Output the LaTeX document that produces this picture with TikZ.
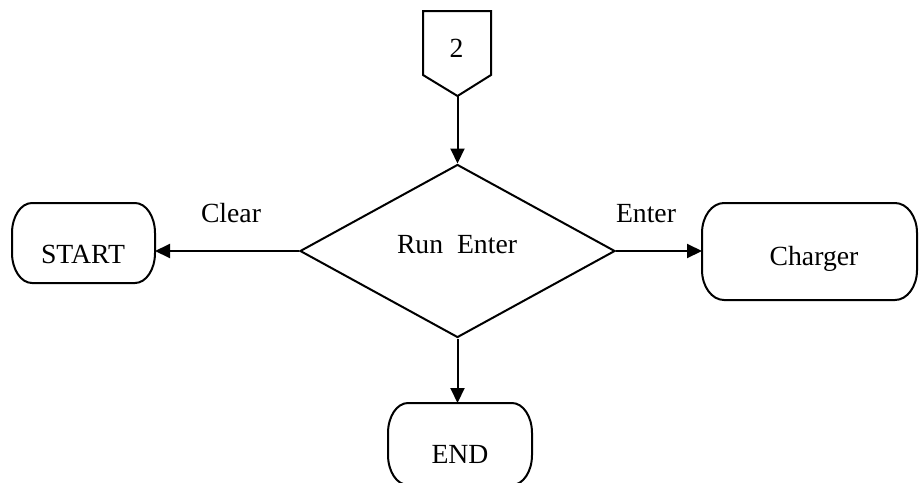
\documentclass[tikz,border=0pt]{standalone}
\usepackage{fontspec}
\setmainfont{Liberation Serif}
\usetikzlibrary{shapes.geometric,arrows.meta}

% Terminator outline with elliptical ends around a rectangular node:
% #1 node name, #2 horizontal corner radius, #3 vertical corner radius
\newcommand\termoutline[3]{%
  \draw[lineart] ([xshift=#2]#1.north west) -- ([xshift=-#2]#1.north east)
    arc[start angle=90, end angle=0, x radius=#2, y radius=#3]
    -- ([yshift=#3]#1.south east)
    arc[start angle=0, end angle=-90, x radius=#2, y radius=#3]
    -- ([xshift=#2]#1.south west)
    arc[start angle=270, end angle=180, x radius=#2, y radius=#3]
    -- ([yshift=-#3]#1.north west)
    arc[start angle=180, end angle=90, x radius=#2, y radius=#3]
    -- cycle;}

\begin{document}
\begin{tikzpicture}[x=0.5pt, y=-0.5pt,
  every node/.style={font=\fontsize{13.85}{16}\selectfont},
  lineart/.style={line width=1pt, line join=miter},
  flow/.style={lineart, -{Triangle[length=7.5pt, width=7pt]}},
  termbox/.style={rectangle, draw=none, inner sep=0pt, outer sep=0pt},
  decision/.style={diamond, draw, line width=1pt, inner sep=0pt,
    minimum width=157.5pt, minimum height=86.5pt},
  txt/.style={inner sep=0pt, anchor=base}]

  \useasboundingbox (0,0) rectangle (919,482);
  \clip (0,0) rectangle (919,482);

  % off-page connector
  \node[termbox, minimum width=34pt, minimum height=32pt] (conn) at (457,43) {};
  \coordinate (tip) at (457.5,96);
  \draw[lineart] (conn.south west) -- (conn.north west) -- (conn.north east)
    -- (conn.south east) -- (tip) -- cycle;
  \node[txt] (conntxt) at (456.5,57) {2};

  % decision
  \node[decision] (dec) at (457.5,251) {};
  \node[txt] (dectxt) at (457,253) {Run~~Enter};

  % terminators
  \node[termbox, minimum width=71.5pt, minimum height=40pt] (start) at (83.5,243) {};
  \termoutline{start}{10pt}{15pt}
  \node[txt] (starttxt) at (83,263) {START};

  \node[termbox, minimum width=107.5pt, minimum height=48.5pt] (charger) at (809.5,251.5) {};
  \termoutline{charger}{11pt}{15pt}
  \node[txt] (chargertxt) at (814,265) {Charger};

  \node[termbox, minimum width=72pt, minimum height=41pt] (end) at (460,444) {};
  \termoutline{end}{10pt}{15pt}
  \node[txt] (endtxt) at (460,463) {END};

  % connectors
  \draw[flow] (tip) -- (dec.north);
  \draw[flow] (dec.west) -- (dec.west -| start.east);
  \draw[flow] (dec.east) -- (dec.east -| charger.west);
  \draw[flow] (dec.south) -- (dec.south |- end.north);

  % branch labels
  \node[txt] (clear) at (231,222) {Clear};
  \node[txt] (enter) at (646,222) {Enter};
\end{tikzpicture}
\end{document}
